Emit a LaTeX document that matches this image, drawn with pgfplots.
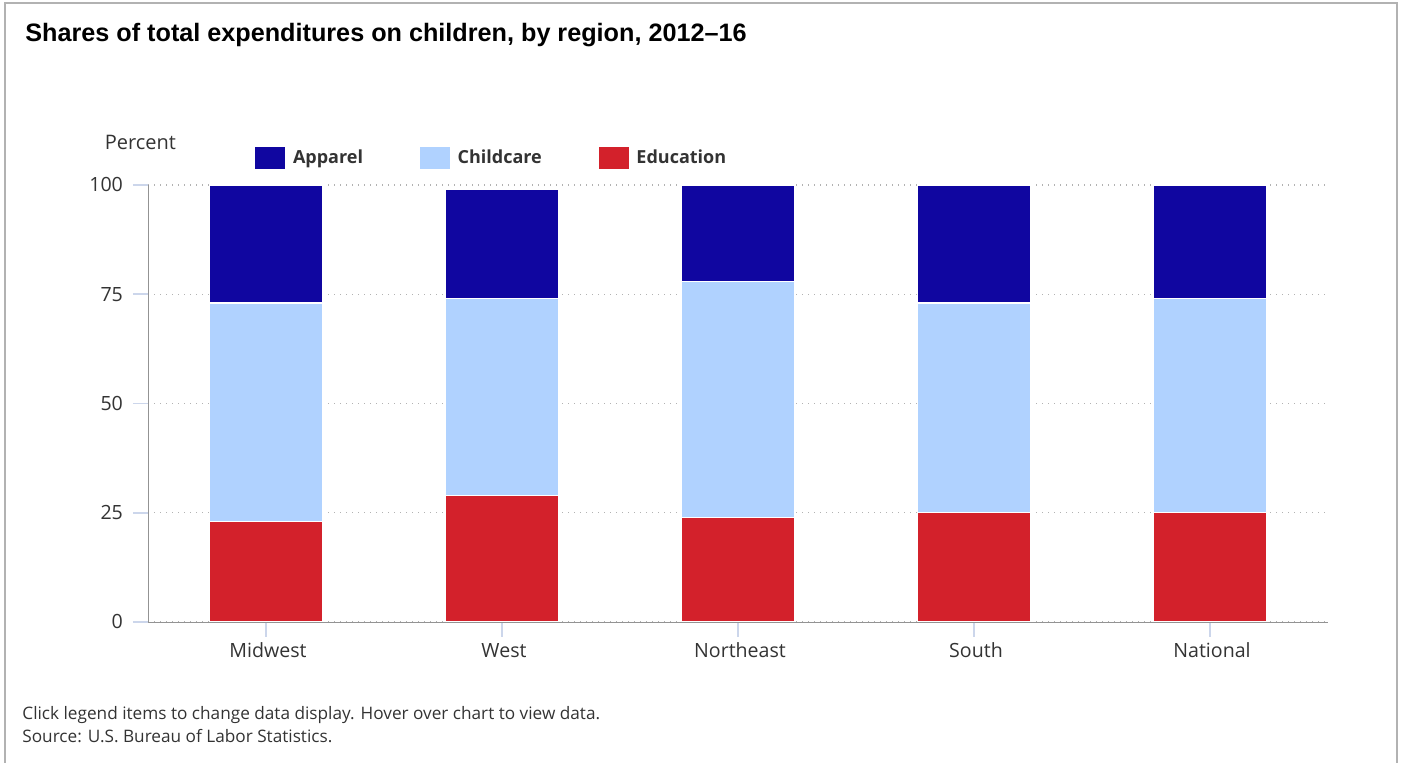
\documentclass[border=0pt]{standalone}
\usepackage{pgfplots}
\pgfplotsset{compat=1.18}
\usepackage{fontspec}
\setmainfont{Open Sans}
\newfontfamily\titlefont{Liberation Sans}
\definecolor{apparel}{RGB}{16,6,160}
\definecolor{childcare}{RGB}{176,210,255}
\definecolor{education}{RGB}{211,33,43}
\definecolor{tickc}{RGB}{204,214,235}
\definecolor{txt}{RGB}{51,51,51}
\begin{document}
\begin{tikzpicture}
\begin{scope}[x=0.5pt,y=0.5pt]
\path[use as bounding box] (0,0) rectangle (1403,763);
\draw[gray!60, line width=0.8pt] (5,-5) -- (5,760) -- (1397,760) -- (1397,-5);
\node[anchor=base west, inner sep=0pt, text=black] at (25,721.5) {\titlefont\bfseries\fontsize{12.6pt}{14pt}\selectfont Shares of total expenditures on children, by region, 2012–16};
\node[text=txt, inner sep=0pt] at (140.5,621) {\fontsize{10pt}{12pt}\selectfont Percent};
\node[anchor=west, text=txt, inner sep=0pt] at (22,48) {\fontsize{8.6pt}{10pt}\selectfont Click legend items to change data display. Hover over chart to view data.};
\node[anchor=west, text=txt, inner sep=0pt] at (22,27) {\fontsize{8.6pt}{10pt}\selectfont Source: U.S. Bureau of Labor Statistics.};
\end{scope}
\begin{axis}[
  at={(74pt,70.5pt)}, anchor=south west,
  scale only axis, width=590pt, height=218.5pt,
  xmin=-0.5, xmax=4.5, ymin=0, ymax=100,
  ybar stacked, bar width=56.5pt,
  xtick={0,1,2,3,4},
  xticklabels={Midwest,West,Northeast,South,National},
  ytick={0,25,50,75,100},
  ymajorgrids, grid style={dash pattern=on 0.7pt off 2.3pt, gray!60, line width=0.7pt},
  axis x line*=bottom, axis y line*=left,
  x axis line style={-, gray!85},
  y axis line style={-, gray!85},
  tick align=outside, major tick length=7.5pt,
  tick style={tickc, line width=0.8pt},
  /pgf/number format/assume math mode=true,
  ticklabel style={font=\fontsize{9.8pt}{11pt}\selectfont, text=txt},
  yticklabel style={xshift=-1.5pt},
  xticklabel style={yshift=0.5pt, xshift=1pt},
  legend style={at={(axis description cs:0.0907,1.061)}, anchor=west, draw=none, fill=none,
    legend columns=3, inner sep=0pt, font=\fontsize{9pt}{11pt}\selectfont\bfseries,
    text=txt,
    /tikz/every even column/.append style={column sep=26.5pt}},
  legend image code/.code={\fill[#1,draw=none] (0pt,-5.5pt) rectangle (15pt,5.5pt); \path (16.5pt,0pt);},
  reverse legend,
]
\addplot[fill=education, draw=white, line width=0.6pt] coordinates {(0,23) (1,29) (2,24) (3,25) (4,25)};
\addplot[fill=childcare, draw=white, line width=0.6pt] coordinates {(0,50) (1,45) (2,54) (3,48) (4,49)};
\addplot[fill=apparel, draw=white, line width=0.6pt] coordinates {(0,27) (1,25) (2,22) (3,27) (4,26)};
\legend{Education,Childcare,Apparel}
\end{axis}
\end{tikzpicture}
\end{document}
